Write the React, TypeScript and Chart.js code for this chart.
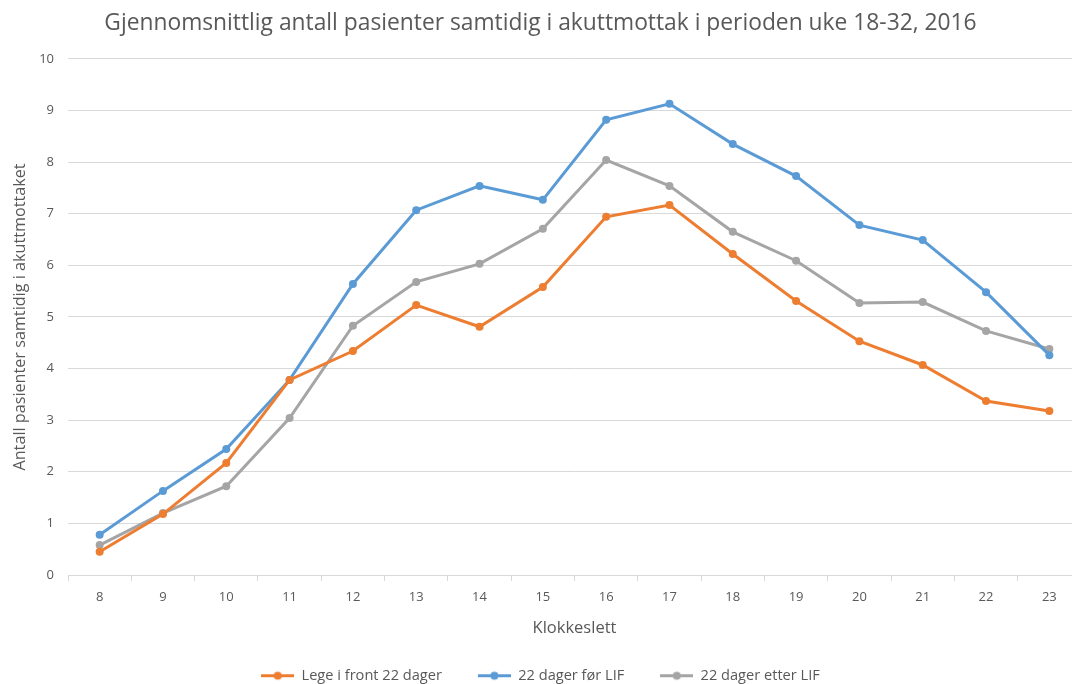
import React, { useEffect, useRef } from "react";
import { Chart, registerables } from "chart.js";

Chart.register(...registerables);

const categories = ["8", "9", "10", "11", "12", "13", "14", "15", "16", "17", "18", "19", "20", "21", "22", "23"];
const legeIFront = [0.45, 1.18, 2.17, 3.78, 4.34, 5.23, 4.81, 5.58, 6.94, 7.17, 6.22, 5.31, 4.53, 4.07, 3.37, 3.18];
const dagerFor = [0.78, 1.63, 2.44, 3.78, 5.64, 7.07, 7.54, 7.27, 8.82, 9.13, 8.35, 7.73, 6.78, 6.49, 5.48, 4.26];
const dagerEtter = [0.58, 1.2, 1.72, 3.04, 4.83, 5.68, 6.03, 6.71, 8.04, 7.54, 6.65, 6.09, 5.27, 5.29, 4.73, 4.38];

const seriesLabels = ["Lege i front 22 dager", "22 dager før LIF", "22 dager etter LIF"];
const seriesColors = ["#ED7D31", "#5B9BD5", "#A5A5A5"];

const FONT = "'Open Sans', 'Noto Sans', sans-serif";
const TEXT = "#595959";
const GRID = "#D9D9D9";

function legendIcon(color: string): HTMLCanvasElement {
  const c = document.createElement("canvas");
  c.width = 33;
  c.height = 11;
  const ctx = c.getContext("2d")!;
  ctx.strokeStyle = color;
  ctx.lineWidth = 3;
  ctx.beginPath();
  ctx.moveTo(0, 5.5);
  ctx.lineTo(33, 5.5);
  ctx.stroke();
  ctx.fillStyle = color;
  ctx.beginPath();
  ctx.arc(16.5, 5.5, 4, 0, Math.PI * 2);
  ctx.fill();
  return c;
}

export default function App() {
  const ref = useRef<HTMLCanvasElement | null>(null);
  useEffect(() => {
    document.body.style.overflow = "hidden";
    const icons = seriesColors.map(legendIcon);
    const series = [legeIFront, dagerFor, dagerEtter];
    const chart = new Chart(ref.current!, {
      type: "line",
      data: {
        labels: categories,
        datasets: series.map((data, i) => ({
          label: seriesLabels[i],
          data,
          borderColor: seriesColors[i],
          backgroundColor: seriesColors[i],
          borderWidth: 3,
          pointRadius: 4,
          pointHoverRadius: 4,
          pointBorderWidth: 0,
          tension: 0,
        })),
      },
      options: {
        animation: false,
        responsive: false,
        maintainAspectRatio: false,
        layout: { padding: { left: 0, right: 5, top: 0, bottom: -9 } },
        plugins: {
          title: {
            display: true,
            text: "Gjennomsnittlig antall pasienter samtidig i akuttmottak i perioden uke 18-32, 2016",
            color: TEXT,
            font: { family: FONT, size: 22.8, weight: "normal" },
            padding: { top: 10, bottom: 21.6 },
          },
          legend: {
            position: "bottom",
            labels: {
              color: TEXT,
              font: { family: FONT, size: 14.6 },
              usePointStyle: true,
              pointStyleWidth: 33,
              padding: 36,
              generateLabels: (ch: any) => {
                const items = Chart.defaults.plugins.legend.labels.generateLabels(ch);
                return items.map((it: any, i: number) => ({ ...it, pointStyle: icons[i] }));
              },
            },
          },
          tooltip: { enabled: false },
        },
        scales: {
          x: {
            offset: true,
            afterFit: (s: any) => {
              s.height = 57.4;
            },
            grid: { offset: true, drawOnChartArea: false, color: GRID, tickLength: 6 },
            border: { color: GRID },
            ticks: { color: TEXT, font: { family: FONT, size: 13 }, padding: 8 },
            title: {
              display: true,
              text: "Klokkeslett",
              color: TEXT,
              font: { family: FONT, size: 16.5 },
              padding: { top: 12.5, bottom: -5.5 },
            },
          },
          y: {
            min: 0,
            max: 10,
            afterFit: (s: any) => {
              s.width = 68;
            },
            grid: { color: GRID, drawTicks: false },
            border: { display: false },
            ticks: { stepSize: 1, color: TEXT, font: { family: FONT, size: 13 }, padding: 14 },
            title: {
              display: true,
              text: "Antall pasienter samtidig i akuttmottaket",
              color: TEXT,
              font: { family: FONT, size: 16.2 },
              padding: { top: 10.3, bottom: 0 },
            },
          },
        },
      },
    });
    return () => chart.destroy();
  }, []);
  return (
    <div style={{ position: "fixed", left: 0, top: 0, width: 1072, height: 684, overflow: "hidden", background: "#fff" }}>
      <canvas ref={ref} width={1086} height={684} style={{ display: "block" }} />
    </div>
  );
}
